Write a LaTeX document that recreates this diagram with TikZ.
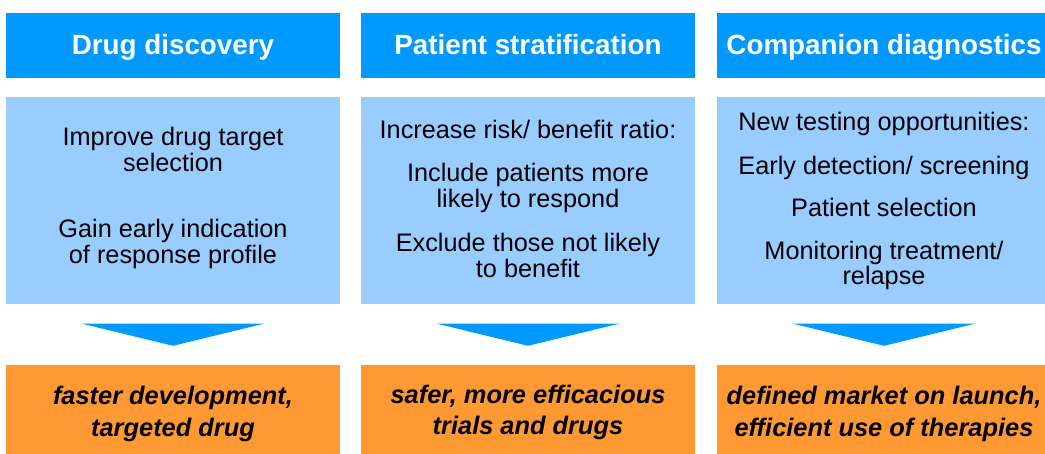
\documentclass[tikz,border=0pt]{standalone}
\usepackage{fontspec}
\setmainfont{Liberation Sans}
\usetikzlibrary{calc}
\definecolor{hdrblue}{RGB}{0,153,255}
\definecolor{bodyblue}{RGB}{153,204,255}
\definecolor{resorange}{RGB}{255,153,51}
\begin{document}
\begin{tikzpicture}[x=1pt,y=-1pt,
  header/.style={fill=hdrblue, text=white, minimum width=334pt, minimum height=65.5pt, inner sep=0pt,
    font=\fontsize{27.8}{30}\selectfont\bfseries, text height=22pt, text depth=3.5pt},
  bodybox/.style={fill=bodyblue, minimum width=334pt, minimum height=207.5pt, inner sep=0pt},
  result/.style={fill=resorange, minimum width=334pt, minimum height=89pt, inner sep=0pt},
  bodytext/.style={anchor=base, inner sep=0pt, font=\fontsize{25.3}{27}\selectfont},
  restext/.style={anchor=base, inner sep=0pt, font=\fontsize{25.4}{31}\selectfont\bfseries\itshape},
  arrowfill/.style={fill=hdrblue}]
\useasboundingbox (0,0) rectangle (1045,454);
\clip (0,0) rectangle (1045,454);

% headers
\node[header] (h1) at (173,45.75) {Drug discovery};
\node[header] (h2) at (528,45.75) {Patient stratification};
\node[header] (h3) at (884,45.75) {Companion diagnostics};

% body boxes
\node[bodybox] (b1) at (173,200.75) {};
\node[bodybox] (b2) at (528,200.75) {};
\node[bodybox] (b3) at (884,200.75) {};

% result boxes
\node[result] (r1) at (173,409.5) {};
\node[result] (r2) at (528,409.5) {};
\node[result] (r3) at (884,409.5) {};

% arrows
\fill[arrowfill] ($(b1.south)+(-91,19)$) -- ($(b1.south)+(91,19)$) -- ($(r1.north)+(0,-19)$) -- cycle;
\fill[arrowfill] ($(b2.south)+(-91,19)$) -- ($(b2.south)+(91,19)$) -- ($(r2.north)+(0,-19)$) -- cycle;
\fill[arrowfill] ($(b3.south)+(-91,19)$) -- ($(b3.south)+(91,19)$) -- ($(r3.north)+(0,-19)$) -- cycle;

% body text column 1
\node[bodytext] (b1a) at (173,146) {Improve drug target};
\node[bodytext] (b1b) at (173,172) {selection};
\node[bodytext] (b1c) at (173,238) {Gain early indication};
\node[bodytext] (b1d) at (173,264) {of response profile};

% body text column 2
\node[bodytext] (b2a) at (528,139) {Increase risk/ benefit ratio:};
\node[bodytext] (b2b) at (528,182) {Include patients more};
\node[bodytext] (b2c) at (528,208) {likely to respond};
\node[bodytext] (b2d) at (528,252) {Exclude those not likely};
\node[bodytext] (b2e) at (528,278) {to benefit};

% body text column 3
\node[bodytext] (b3a) at (884,131) {New testing opportunities:};
\node[bodytext] (b3b) at (884,175) {Early detection/ screening};
\node[bodytext] (b3c) at (884,217) {Patient selection};
\node[bodytext] (b3d) at (884,260) {Monitoring treatment/};
\node[bodytext] (b3e) at (884,285) {relapse};

% result text
\node[restext] (r1a) at (173,405) {faster development,};
\node[restext] (r1b) at (173,436) {targeted drug};
\node[restext] (r2a) at (528,404) {safer, more efficacious};
\node[restext] (r2b) at (528,435) {trials and drugs};
\node[restext] (r3a) at (884,405) {defined market on launch,};
\node[restext] (r3b) at (884,437) {efficient use of therapies};
\end{tikzpicture}
\end{document}
